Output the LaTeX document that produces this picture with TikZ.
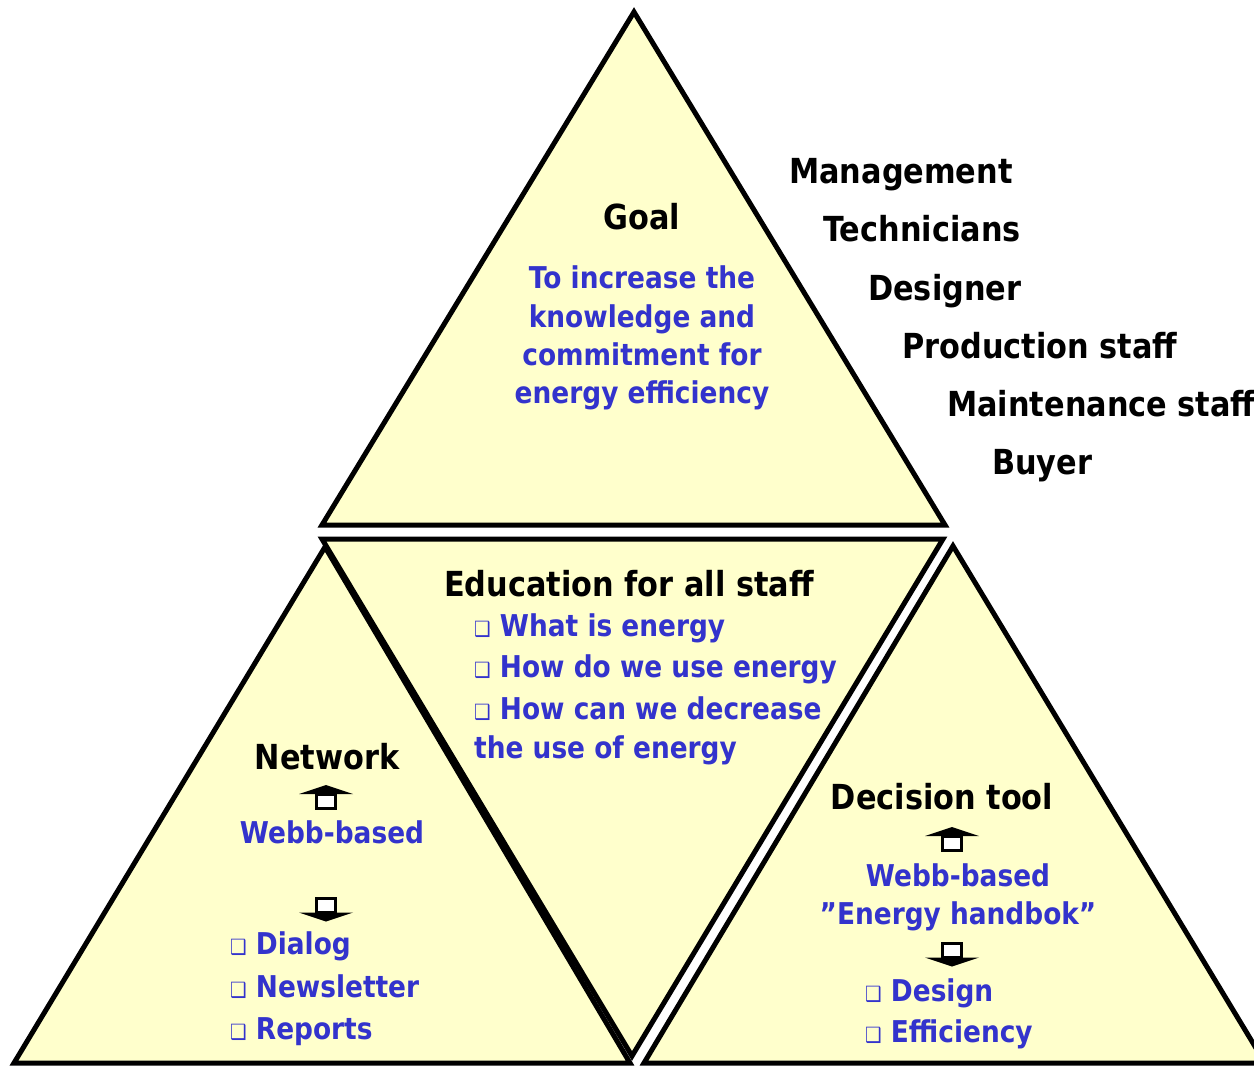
\documentclass[tikz,border=0pt]{standalone}
\usepackage{fontspec}
\setmainfont{DejaVu Sans}[FakeStretch=0.88]
\definecolor{fillY}{RGB}{255,255,204}
\definecolor{txtB}{RGB}{51,51,204}
\newcommand\mybul{{\fontsize{21}{21}\selectfont ❑}}
\begin{document}
\begin{tikzpicture}[x=1pt,y=-1pt,
  tri/.style={fill=fillY,draw=black,line width=5pt,line join=miter},
  head/.style={font=\fontsize{34.5}{40}\selectfont\bfseries,text=black,inner sep=0pt},
  blu/.style={font=\fontsize{30}{38}\selectfont\bfseries,text=txtB,inner sep=0pt},
  uparrow/.pic={
    \fill[black] (-27,9) -- (0,0) -- (27,9) -- cycle;
    \draw[fill=white,line width=3pt] (-9.5,9) rectangle (9.5,23);
  },
  downarrow/.pic={
    \draw[fill=white,line width=3pt] (-9.5,0) rectangle (9.5,14.5);
    \fill[black] (-27,14.5) -- (0,23.5) -- (27,14.5) -- cycle;
  }]
\useasboundingbox (0,0) rectangle (1254,1067);
\clip (0,0) rectangle (1254,1067);
% triangles
\draw[tri] (634,12) -- (945,525) -- (322,525) -- cycle;
\draw[tri] (322,539) -- (943,539) -- (632,1056) -- cycle;
\draw[tri] (325,547) -- (630,1063) -- (14,1063) -- cycle;
\draw[tri] (953,546) -- (1265,1063) -- (644,1063) -- cycle;
% goal
\node[head,anchor=base] (goal) at (642,230) {Goal};
\node[blu,anchor=base] (g1) at (642,289) {To increase the};
\node[blu,anchor=base] (g2) at (642,328) {knowledge and};
\node[blu,anchor=base] (g3) at (642,366) {commitment for};
\node[blu,anchor=base] (g4) at (642,404) {energy efficiency};
% staff list
\node[head,anchor=base west] (n1) at (789,184) {Management};
\node[head,anchor=base west] (n2) at (823,242) {Technicians};
\node[head,anchor=base west] (n3) at (868,301) {Designer};
\node[head,anchor=base west] (n4) at (902,359) {Production staff};
\node[head,anchor=base west] (n5) at (947,417) {Maintenance staff};
\node[head,anchor=base west] (n6) at (992,475) {Buyer};
% education
\node[head,anchor=base west] (edu) at (444,596) {Education for all staff};
\node[blu,anchor=base west] (e1) at (474,636) {\mybul{} What is energy};
\node[blu,anchor=base west] (e2) at (474,677) {\mybul{} How do we use energy};
\node[blu,anchor=base west] (e3) at (474,719) {\mybul{} How can we decrease};
\node[blu,anchor=base west] (e4) at (474,758) {the use of energy};
% network
\node[head,anchor=base] (net) at (327,769) {Network};
\pic at (326,785) {uparrow};
\node[blu,anchor=base] (nw) at (332,843) {Webb-based};
\pic at (326,898) {downarrow};
\node[blu,anchor=base west] (d1) at (230,954) {\mybul{} Dialog};
\node[blu,anchor=base west] (d2) at (230,997) {\mybul{} Newsletter};
\node[blu,anchor=base west] (d3) at (230,1039) {\mybul{} Reports};
% decision tool
\node[head,anchor=base] (dec) at (942,809) {Decision tool};
\pic at (952,827) {uparrow};
\node[blu,anchor=base] (dw) at (958,886) {Webb-based};
\node[blu,anchor=base] (dh) at (958,924) {”Energy handbok”};
\pic at (952,943) {downarrow};
\node[blu,anchor=base west] (t1) at (865,1001) {\mybul{} Design};
\node[blu,anchor=base west] (t2) at (865,1042) {\mybul{} Efficiency};
\end{tikzpicture}
\end{document}
